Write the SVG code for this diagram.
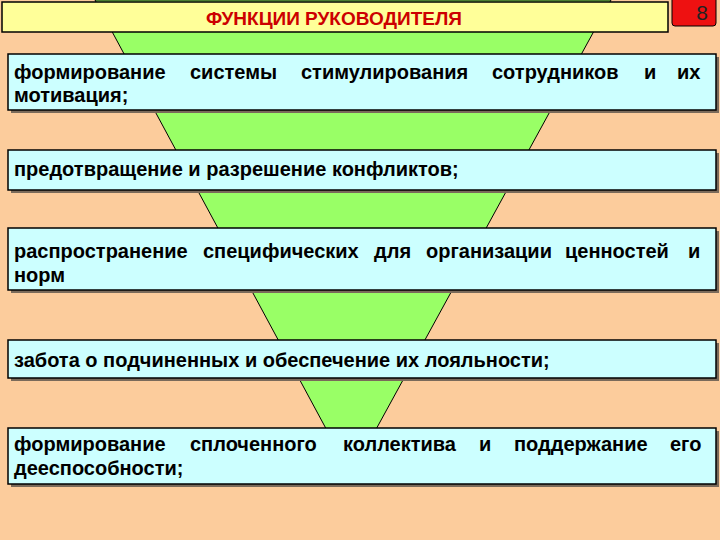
<svg xmlns="http://www.w3.org/2000/svg" width="720" height="540" viewBox="0 0 720 540">
<style>
.b{fill:#ccffff;stroke:#000;stroke-width:1.5}
.s{fill:#7a6a5a}
.t{font-family:"Liberation Sans",Arial,sans-serif;font-weight:bold;font-size:20px;fill:#000}
</style>
<rect width="720" height="540" fill="#fccc9c"/>
<polygon points="95,0 611,0 351,475" fill="#99ff66" stroke="#000" stroke-width="1"/>
<g id="title"><rect x="2" y="2" width="666" height="30" fill="#ffff99" stroke="#000" stroke-width="1.5"/>
<text x="334" y="25" text-anchor="middle" class="t" style="fill:#cc0000;font-size:19px">ФУНКЦИИ РУКОВОДИТЕЛЯ</text></g>
<g id="num"><rect x="672" y="-4" width="44" height="30" rx="3" fill="#ee1111" stroke="#000"/>
<text x="702" y="20" text-anchor="middle" class="t" style="font-weight:normal;font-size:21px;fill:#222">8</text></g>
<g id="n1"><rect x="11" y="57" width="708" height="56" class="s"/><rect x="8" y="54" width="708" height="56" class="b"/>
<text y="79" class="t"><tspan x="14">формирование</tspan><tspan x="190">системы</tspan><tspan x="301">стимулирования</tspan><tspan x="492">сотрудников</tspan><tspan x="644">и</tspan><tspan x="677">их</tspan></text>
<text x="14" y="102" class="t">мотивация;</text></g>
<g id="n2"><rect x="11" y="153" width="708" height="40" class="s"/><rect x="8" y="150" width="708" height="40" class="b"/>
<text x="14" y="176" class="t">предотвращение и разрешение конфликтов;</text></g>
<g id="n3"><rect x="11" y="231" width="708" height="62" class="s"/><rect x="8" y="228" width="708" height="62" class="b"/>
<text y="258" class="t"><tspan x="14">распространение</tspan><tspan x="203">специфических</tspan><tspan x="374">для</tspan><tspan x="426">организации</tspan><tspan x="565">ценностей</tspan><tspan x="688">и</tspan></text>
<text x="14" y="282" class="t">норм</text></g>
<g id="n4"><rect x="11" y="343" width="708" height="38" class="s"/><rect x="8" y="340" width="708" height="38" class="b"/>
<text x="14" y="367" class="t">забота о подчиненных и обеспечение их лояльности;</text></g>
<g id="n5"><rect x="11" y="431" width="708" height="56" class="s"/><rect x="8" y="428" width="708" height="56" class="b"/>
<text y="451" class="t"><tspan x="14">формирование</tspan><tspan x="190">сплоченного</tspan><tspan x="343">коллектива</tspan><tspan x="479">и</tspan><tspan x="514">поддержание</tspan><tspan x="670">его</tspan></text>
<text x="14" y="475" class="t">дееспособности;</text></g>
<g id="connectors"/>
</svg>
